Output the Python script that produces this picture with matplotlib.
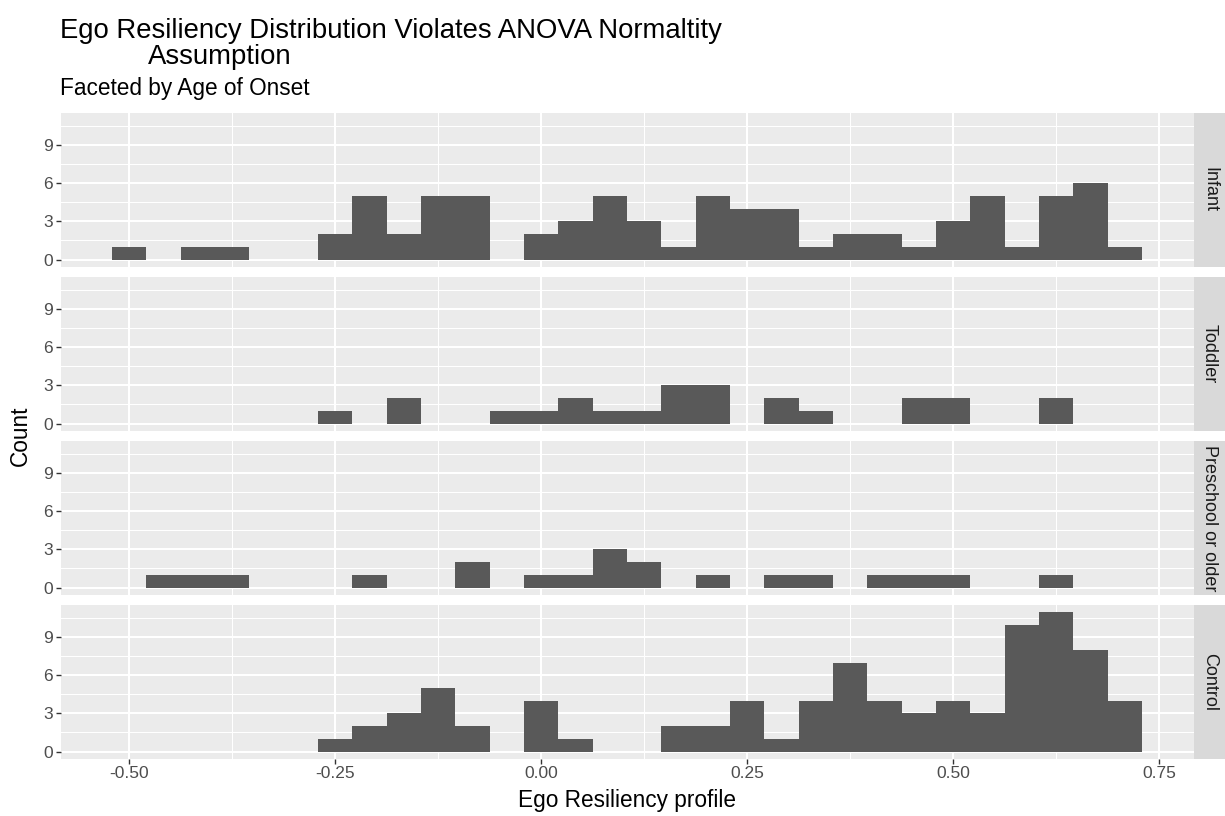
# Faceted histogram of ego resiliency by age of onset (ggplot look)

import matplotlib
matplotlib.use("Agg")
import matplotlib.pyplot as plt
import numpy as np

plt.rcParams['font.family'] = ['Liberation Sans', 'DejaVu Sans']
plt.rcParams['axes.unicode_minus'] = False

# Data: counts per bin (30 bins)

bin_first_center = -0.5
bin_width = 1.25 / 30

infant = [1, 0, 1, 1, 0, 0, 2, 5, 2, 5, 5, 0, 2, 3, 5, 3, 1, 5, 4, 4, 1, 2, 2, 1, 3, 5, 1, 5, 6, 1]
toddler = [0, 0, 0, 0, 0, 0, 1, 0, 2, 0, 0, 1, 1, 2, 1, 1, 3, 3, 0, 2, 1, 0, 0, 2, 2, 0, 0, 2, 0, 0]
preschool = [0, 1, 1, 1, 0, 0, 0, 1, 0, 0, 2, 0, 1, 1, 3, 2, 0, 1, 0, 1, 1, 0, 1, 1, 1, 0, 0, 1, 0, 0]
control = [0, 0, 0, 0, 0, 0, 1, 2, 3, 5, 2, 0, 4, 1, 0, 0, 2, 2, 4, 1, 4, 7, 4, 3, 4, 3, 10, 11, 8, 4]

facet_names = ["Infant", "Toddler", "Preschool or older", "Control"]
facet_counts = [infant, toddler, preschool, control]

x_ticks = [-0.5, -0.25, 0.0, 0.25, 0.5, 0.75]
x_tick_labels = ["-0.50", "-0.25", "0.00", "0.25", "0.50", "0.75"]
y_ticks = [0, 3, 6, 9]

# Layout in pixels

W, H = 1225, 816
fig = plt.figure(figsize=(W / 100, H / 100), dpi=100)


def px_axes(left, top, width, height):
    return fig.add_axes([left / W, 1 - (top + height) / H, width / W, height / H])


centers = bin_first_center + bin_width * np.arange(30)
lo = centers[0] - bin_width / 2
hi = centers[-1] + bin_width / 2
pad = (hi - lo) * 0.05
ymax = max(max(c) for c in facet_counts)

panel_left, panel_w = 60.5, 1133
panel_h = 153.5
tops = [113, 277, 441, 605]

for i, (name, counts) in enumerate(zip(facet_names, facet_counts)):
    ax = px_axes(panel_left, tops[i], panel_w, panel_h)
    ax.set_facecolor("#EBEBEB")
    ax.bar(centers, counts, width=bin_width, color="#595959", linewidth=0)
    ax.set_xlim(lo - pad, hi + pad)
    ax.set_ylim(-ymax * 0.05, ymax * 1.05)

    ax.set_xticks(x_ticks)
    ax.set_xticks([(a + b) / 2 for a, b in zip(x_ticks[:-1], x_ticks[1:])], minor=True)
    ax.set_yticks(y_ticks)
    ax.set_yticks([1.5, 4.5, 7.5, 10.5], minor=True)
    ax.set_axisbelow(True)
    ax.grid(which="major", color="white", linewidth=1.45)
    ax.grid(which="minor", color="white", linewidth=0.75)
    for s in ax.spines.values():
        s.set_visible(False)
    ax.tick_params(which="major", length=3.5, width=1, color="#333333",
                   labelsize=12.5, labelcolor="#4D4D4D", pad=2)
    ax.tick_params(which="minor", length=0)

    if i == len(facet_names) - 1:
        ax.set_xticklabels(x_tick_labels)
    else:
        ax.set_xticklabels([])
        ax.tick_params(axis="x", which="major", length=0)

    # strip on the right
    strip = px_axes(panel_left + panel_w + 0.5, tops[i], 31, panel_h)
    strip.set_facecolor("#D9D9D9")
    strip.set_xticks([])
    strip.set_yticks([])
    for s in strip.spines.values():
        s.set_visible(False)
    strip.text(0.5, 0.5, name, rotation=-90, ha="center", va="center",
               fontsize=13, color="#1A1A1A", transform=strip.transAxes)

# Titles and axis labels

fig.text(60 / W, 1 - 31 / H, "Ego Resiliency Distribution Violates ANOVA Normaltity",
         fontsize=19.8, va="center", color="black")
fig.text(148 / W, 1 - 57 / H, "Assumption", fontsize=19.8, va="center", color="black")
fig.text(60 / W, 1 - 89 / H, "Faceted by Age of Onset", fontsize=16.3, va="center", color="black")
fig.text((panel_left + panel_w / 2) / W, 1 - 800 / H, "Ego Resiliency profile",
         fontsize=16.3, ha="center", va="center")
fig.text(20 / W, 1 - 436 / H, "Count", fontsize=16.3, rotation=90, ha="center", va="center")

fig.savefig("out.png", dpi=100, facecolor="white")
